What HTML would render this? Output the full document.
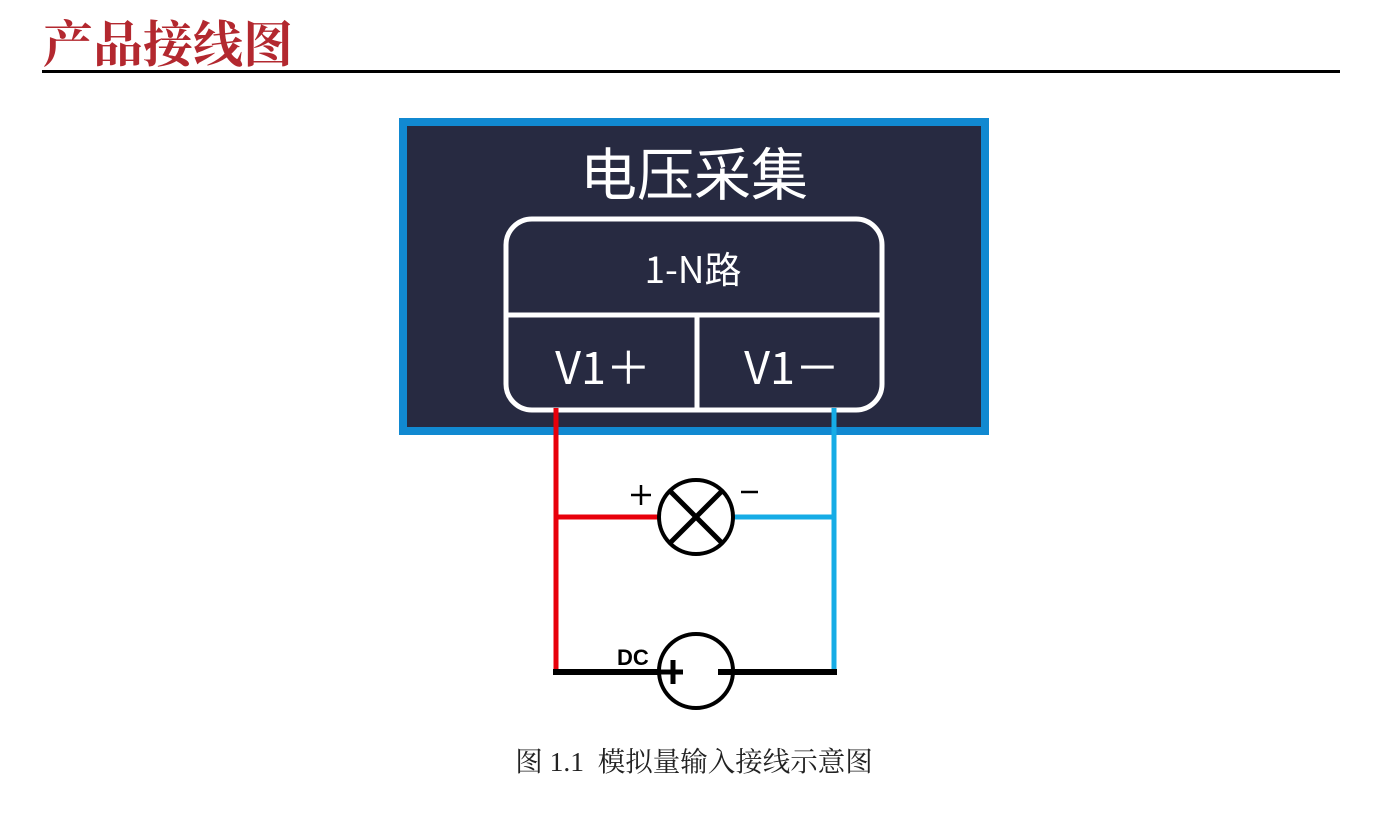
<!DOCTYPE html>
<html><head><meta charset="utf-8"><style>
html,body{margin:0;padding:0;background:#fff;width:1374px;height:823px;overflow:hidden}
</style></head><body>
<svg width="1374" height="823" viewBox="0 0 1374 823" xmlns="http://www.w3.org/2000/svg">
<text x="43" y="62" font-family="'Liberation Serif','Noto Serif CJK SC',serif" font-size="50" font-weight="bold" fill="#b3282f">产品接线图</text>
<rect x="42" y="70" width="1298" height="3" fill="#000"/>
<rect x="399" y="118" width="590" height="317" fill="#1189d1"/>
<rect x="407" y="126" width="574" height="301" fill="#272a41"/>
<text x="694" y="195" text-anchor="middle" font-family="'Noto Sans CJK SC',sans-serif" font-size="57" fill="#fff">电压采集</text>
<rect x="506" y="219" width="376" height="191" rx="26" fill="none" stroke="#fff" stroke-width="5"/>
<line x1="506" y1="315" x2="882" y2="315" stroke="#fff" stroke-width="5"/>
<line x1="697" y1="315" x2="697" y2="410" stroke="#fff" stroke-width="5"/>
<text x="693" y="283" text-anchor="middle" font-family="'Noto Sans CJK SC',sans-serif" font-size="37" fill="#fff">1-N路</text>
<text x="603" y="384" text-anchor="middle" font-family="'Noto Sans CJK SC',sans-serif" font-size="45" fill="#fff">V1＋</text>
<text x="792" y="384" text-anchor="middle" font-family="'Noto Sans CJK SC',sans-serif" font-size="45" fill="#fff">V1－</text>
<line x1="556" y1="408" x2="556" y2="672" stroke="#e8000b" stroke-width="5"/>
<line x1="834" y1="408" x2="834" y2="672" stroke="#16ace6" stroke-width="5"/>
<line x1="556" y1="517" x2="659" y2="517" stroke="#e8000b" stroke-width="5"/>
<line x1="734" y1="517" x2="834" y2="517" stroke="#16ace6" stroke-width="5"/>
<circle cx="696" cy="517" r="37" fill="none" stroke="#000" stroke-width="4"/>
<line x1="670" y1="491" x2="722" y2="543" stroke="#000" stroke-width="5"/>
<line x1="722" y1="491" x2="670" y2="543" stroke="#000" stroke-width="5"/>
<line x1="631" y1="495" x2="651" y2="495" stroke="#000" stroke-width="2.5"/>
<line x1="641" y1="485" x2="641" y2="505" stroke="#000" stroke-width="2.5"/>
<line x1="741" y1="492" x2="758" y2="492" stroke="#000" stroke-width="2.5"/>
<line x1="553" y1="672" x2="837" y2="672" stroke="#000" stroke-width="6"/>
<circle cx="696" cy="671" r="37" fill="#fff" stroke="#000" stroke-width="4"/>
<line x1="659" y1="672" x2="683" y2="672" stroke="#000" stroke-width="5"/>
<line x1="673" y1="660" x2="673" y2="684" stroke="#000" stroke-width="5"/>
<line x1="718" y1="672" x2="735" y2="672" stroke="#000" stroke-width="6"/>
<text x="617" y="665" font-family="'Liberation Sans',sans-serif" font-weight="bold" font-size="22" fill="#000">DC</text>
<text x="694" y="771" text-anchor="middle" xml:space="preserve" font-family="'Liberation Serif','Noto Serif CJK SC',serif" font-size="27.5" fill="#222">图 1.1  模拟量输入接线示意图</text>
</svg>
</body></html>
